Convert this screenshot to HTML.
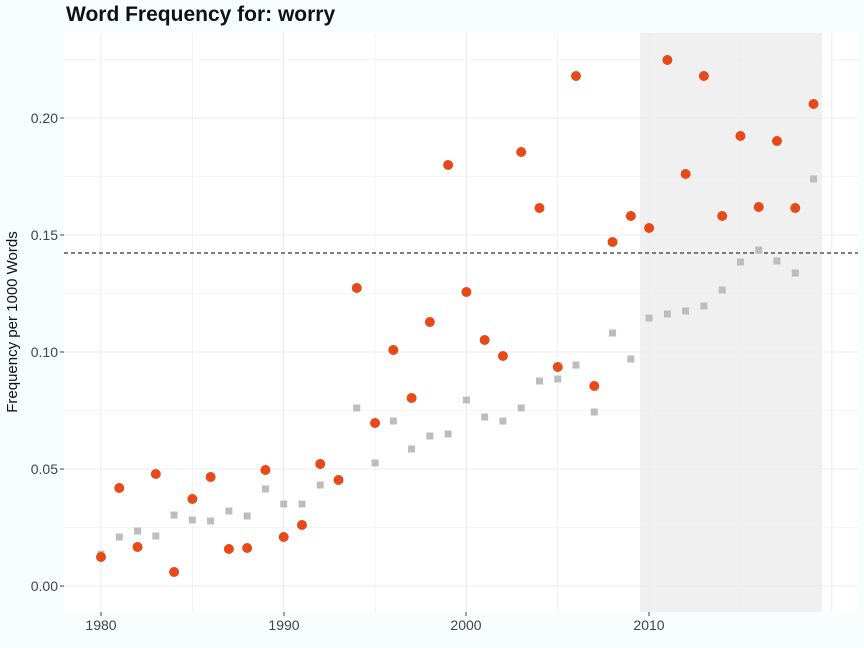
<!DOCTYPE html>
<html><head><meta charset="utf-8"><style>
html,body{margin:0;padding:0;background:#f8fefe;}
svg{display:block;font-family:"Liberation Sans",sans-serif;}
</style></head><body>
<svg id="s" width="864" height="648" xmlns="http://www.w3.org/2000/svg">
<rect width="864" height="648" fill="#f8fefe"/>
<rect x="64" y="33" width="794" height="579" fill="#ffffff"/>
<rect x="640" y="33" width="182" height="579" fill="#f0f0f0"/>
<g id="grid" stroke="#ebebeb" stroke-width="1"></g>
<line x1="64" x2="858" y1="253" y2="253" stroke="#333" stroke-width="1.2" stroke-dasharray="4,3"/>
<g id="pts"></g>
<text x="66" y="21" font-size="21" font-weight="bold" fill="#111">Word Frequency for: worry</text>
<g font-size="14" fill="#444" text-anchor="end">
<text x="58" y="591">0.00</text>
<text x="58" y="474">0.05</text>
<text x="58" y="357">0.10</text>
<text x="58" y="240">0.15</text>
<text x="58" y="123">0.20</text>
</g>
<g font-size="14" fill="#444" text-anchor="middle">
<text x="101" y="630">1980</text>
<text x="284" y="630">1990</text>
<text x="466" y="630">2000</text>
<text x="649" y="630">2010</text>
</g>
<text transform="translate(17,322) rotate(-90)" font-size="15" fill="#111" text-anchor="middle">Frequency per 1000 Words</text>
</svg>
<script>
var ns="http://www.w3.org/2000/svg",g=document.getElementById("grid"),p=document.getElementById("pts");
function el(t,a,par){var e=document.createElementNS(ns,t);for(var k in a)e.setAttribute(k,a[k]);par.appendChild(e);return e;}
function X(y){return 101+(y-1980)*18.27;}
for(var v=0;v<=0.225;v+=0.025){var yy=586-v*2340;el("line",{x1:64,x2:858,y1:yy,y2:yy,"stroke-width":(Math.round(v*1000)%50==0)?1:0.6},g);}
for(var yr=1980;yr<=2020;yr+=5){var xx=X(yr);el("line",{x1:xx,x2:xx,y1:33,y2:612,"stroke-width":yr%10==0?1:0.6},g);}
[[101,580],[284,580],[466,580],[649,580]].forEach(function(a){el("line",{x1:a[0],x2:a[0],y1:612,y2:616,stroke:"#444"},g);});
[586,469,352,235,118].forEach(function(y){el("line",{x1:60,x2:64,y1:y,y2:y,stroke:"#444"},g);});
var gr=[554,537,531,536,515,520,521,511,516,489,504,504,485,null,408,463,421,449,436,434,400,417,421,408,381,379,365,412,333,359,318,314,311,306,290,262,250,261,273,179];
var or=[557,488,547,474,572,499,477,549,548,470,537,525,464,480,288,423,350,398,322,165,292,340,356,152,208,367,76,386,242,216,228,60,174,76,216,136,207,141,208,104];
gr.forEach(function(y,i){if(y!=null)el("rect",{x:X(1980+i)-3.5,y:y-3.5,width:7,height:7,fill:"#bdbdbd"},p);});
or.forEach(function(y,i){el("circle",{cx:X(1980+i),cy:y,r:5,fill:"#e64a19"},p);});
</script>
</body></html>
